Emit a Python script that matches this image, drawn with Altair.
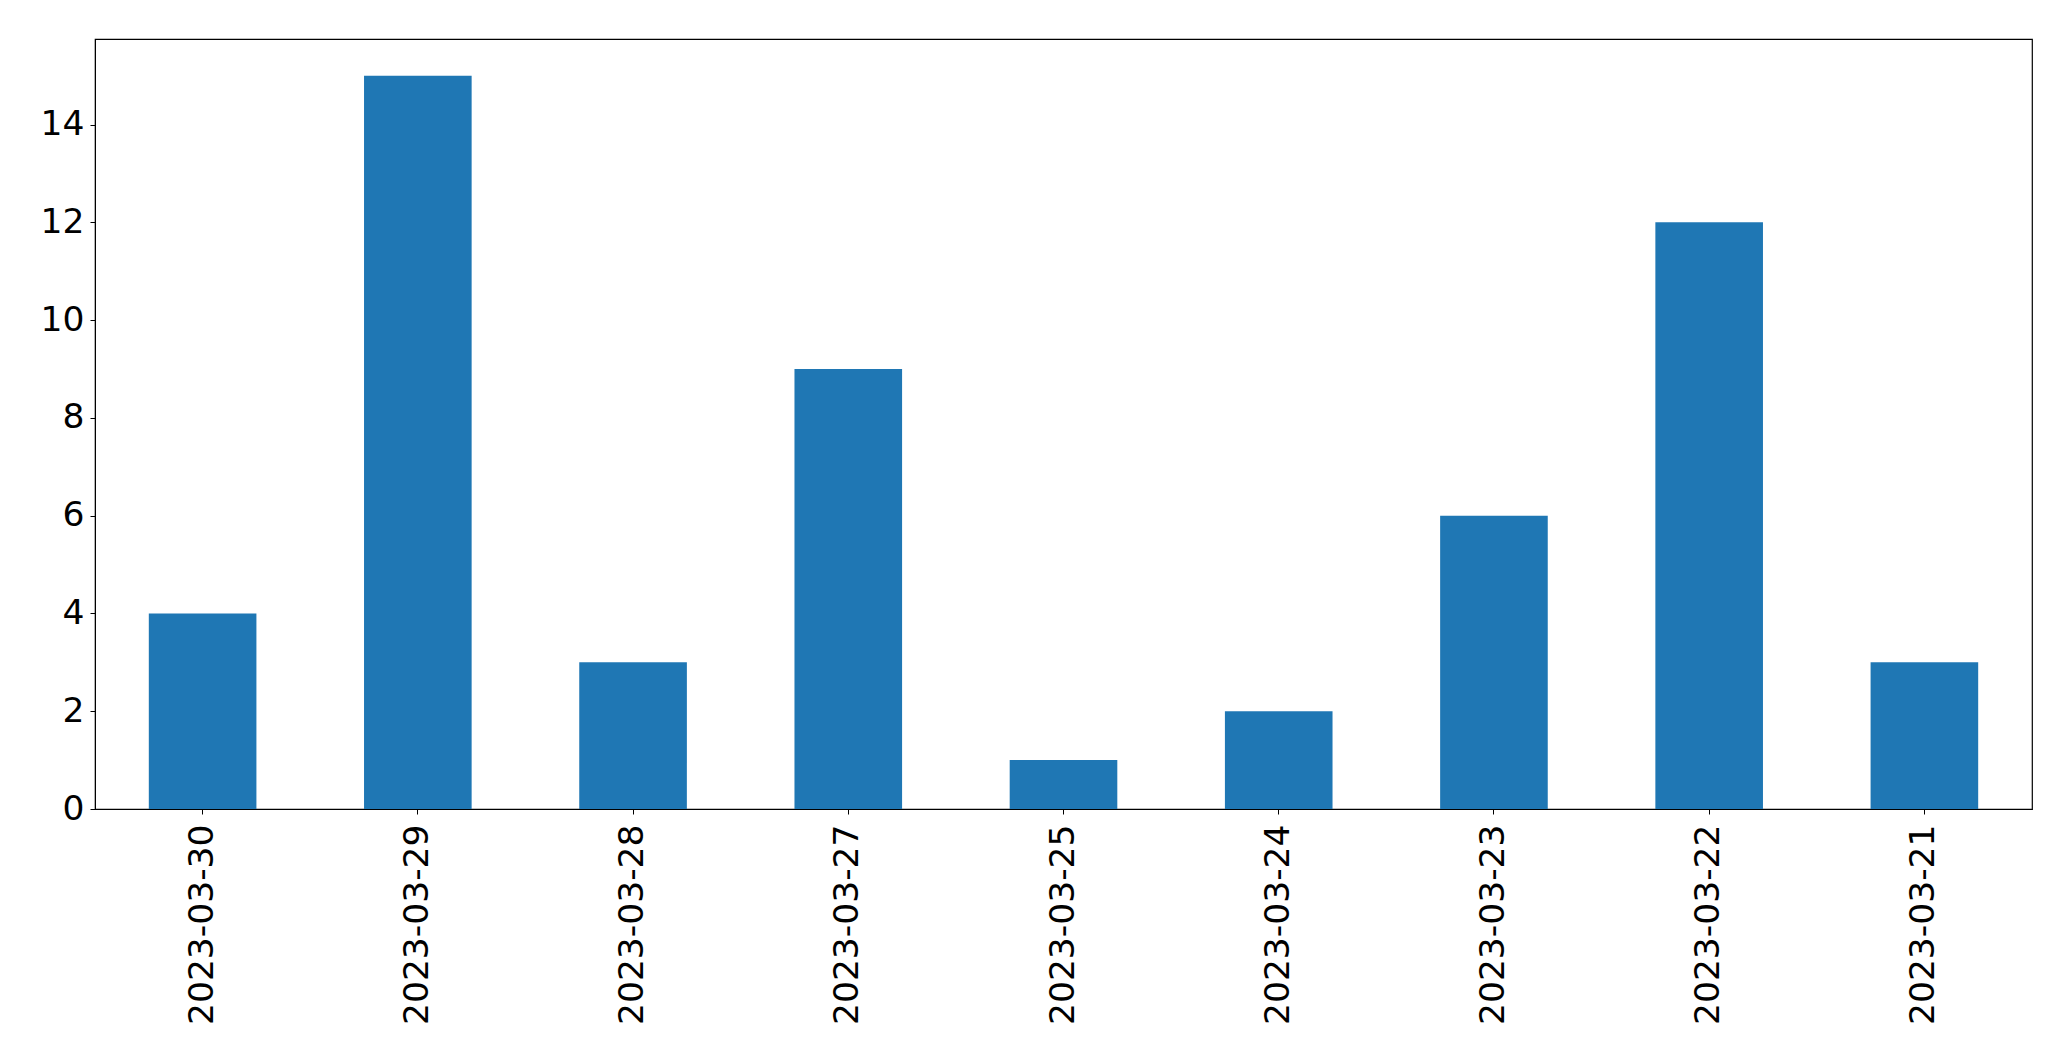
import altair as alt
import pandas as pd

dates = ["2023-03-30", "2023-03-29", "2023-03-28", "2023-03-27", "2023-03-25",
         "2023-03-24", "2023-03-23", "2023-03-22", "2023-03-21"]
counts = [4, 15, 3, 9, 1, 2, 6, 12, 3]
y_ticks = [0, 2, 4, 6, 8, 10, 12, 14]

df = pd.DataFrame({"date": dates, "count": counts})

chart = alt.Chart(df).mark_bar(color="#1f77b4").encode(
    x=alt.X("date:N", sort=dates, title=None,
            scale=alt.Scale(paddingInner=0.5, paddingOuter=0.25),
            axis=alt.Axis(labelAngle=270, labelFontSize=34.5, labelPadding=10,
                          tickSize=5, tickColor="black", domainColor="black",
                          labelColor="black", labelFont="DejaVu Sans",
                          labelLimit=0)),
    y=alt.Y("count:Q", title=None,
            scale=alt.Scale(domain=[0, 15.75], nice=False),
            axis=alt.Axis(values=y_ticks, labelFontSize=34.5, labelPadding=6,
                          tickSize=5, tickColor="black", domainColor="black",
                          labelColor="black", labelFont="DejaVu Sans",
                          grid=False)),
).properties(
    width=1937, height=770,
    autosize=alt.AutoSizeParams(type="none"),
    padding={"left": 87, "top": 31, "right": 30, "bottom": 230},
).configure_view(stroke="black", strokeWidth=1.2).configure_axis(grid=False)

chart.save("out.html", embed_options={"renderer": "svg", "actions": False})
